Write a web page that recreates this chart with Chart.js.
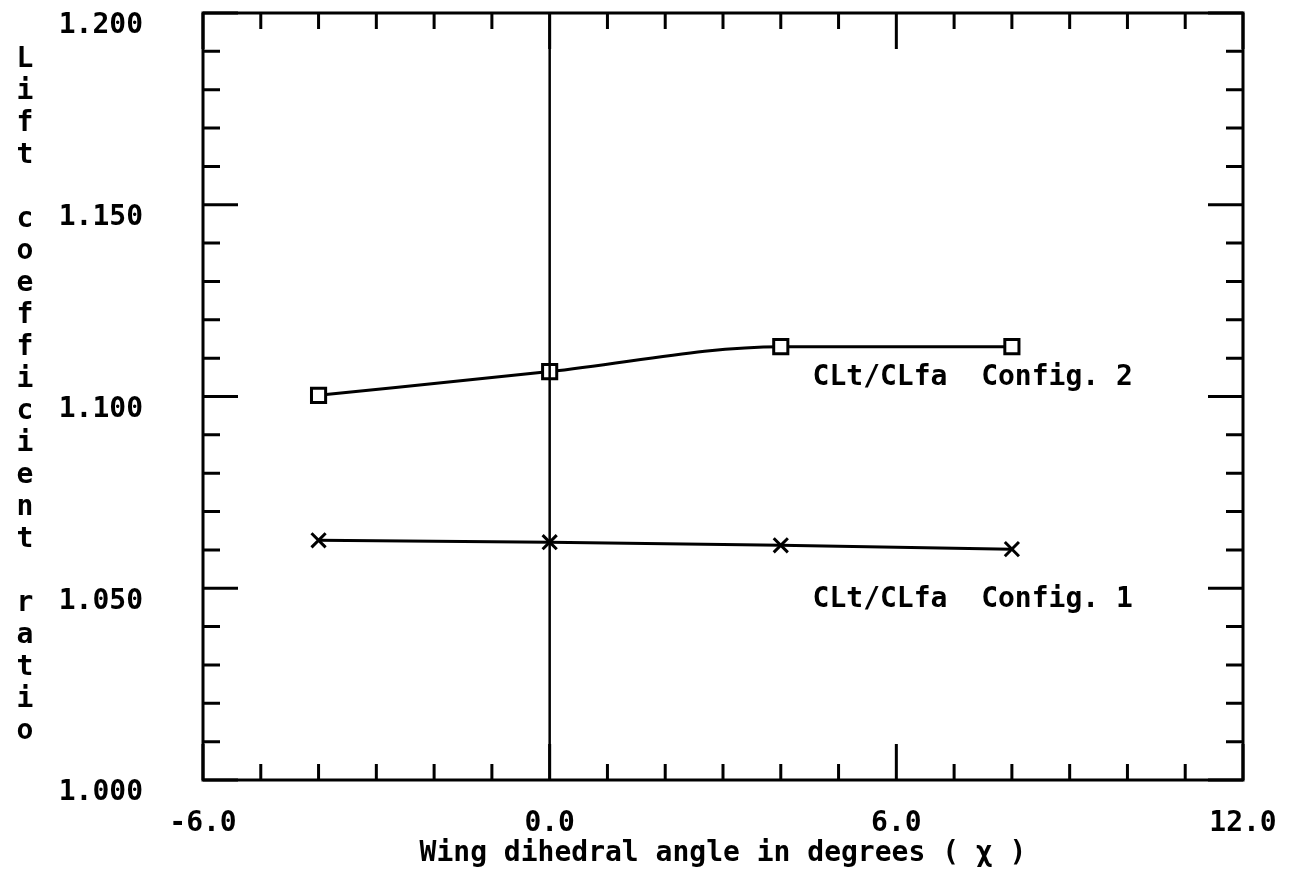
<!DOCTYPE html>
<html>
<head>
<meta charset="utf-8">
<script src="https://cdn.jsdelivr.net/npm/chart.js@4.4.1/dist/chart.umd.min.js"></script>
<style>
  html, body { margin: 0; padding: 0; background: #fff; }
  #wrap { width: 1290px; height: 874px; }
</style>
</head>
<body>
<div id="wrap"><canvas id="liftChart" width="1290" height="874"></canvas></div>
<script>
const dihedral = [-4, 0, 4, 8];
const config1 = [1.0625, 1.0620, 1.0612, 1.0602];
const config2 = [1.1003, 1.1065, 1.1130, 1.1130];
const seriesNames = ['CLt/CLfa  Config. 1', 'CLt/CLfa  Config. 2'];
const yTitle = 'Lift coefficient ratio';
const xTitle = 'Wing dihedral angle in degrees ( \u03C7 )';

const FONT = '"DejaVu Sans Mono", "Liberation Mono", monospace';

// stop chart.js from reserving extra room for overhanging tick labels
function noPadding(scale) {
  scale.paddingTop = 0;
  scale.paddingBottom = 0;
  scale.paddingLeft = 0;
  scale.paddingRight = 0;
}

// inward ticks on all four sides, frame, zero line, stacked y title, series labels
const plotterPlugin = {
  id: 'plotter',
  afterDraw(chart) {
    const ctx = chart.ctx;
    const a = chart.chartArea;
    const xs = chart.scales.x;
    const ys = chart.scales.y;
    ctx.save();
    ctx.strokeStyle = '#000';
    ctx.lineWidth = 3;
    ctx.lineCap = 'butt';
    ctx.strokeRect(a.left, a.top, a.right - a.left, a.bottom - a.top);

    // x ticks every 1 deg, long every 6
    for (let v = -6; v <= 12; v++) {
      const px = xs.getPixelForValue(v);
      const len = v % 6 === 0 ? 36 : 16;
      ctx.beginPath();
      ctx.moveTo(px, a.bottom); ctx.lineTo(px, a.bottom - len);
      ctx.moveTo(px, a.top); ctx.lineTo(px, a.top + len);
      ctx.stroke();
    }
    // y ticks every 0.01, long every 0.05
    for (let i = 0; i <= 20; i++) {
      const py = ys.getPixelForValue(1 + i * 0.01);
      const len = i % 5 === 0 ? 35 : 17;
      ctx.beginPath();
      ctx.moveTo(a.left, py); ctx.lineTo(a.left + len, py);
      ctx.moveTo(a.right, py); ctx.lineTo(a.right - len, py);
      ctx.stroke();
    }
    // zero line
    ctx.lineWidth = 2.5;
    const x0 = xs.getPixelForValue(0);
    ctx.beginPath();
    ctx.moveTo(x0, a.top); ctx.lineTo(x0, a.bottom);
    ctx.stroke();

    // stacked y axis title
    ctx.fillStyle = '#000';
    ctx.font = 'bold 28px ' + FONT;
    ctx.textAlign = 'center';
    ctx.textBaseline = 'alphabetic';
    for (let k = 0; k < yTitle.length; k++) {
      ctx.fillText(yTitle[k], 25, 67 + 32 * k);
    }

    // series labels
    ctx.textAlign = 'left';
    ctx.textBaseline = 'middle';
    ctx.fillText(seriesNames[1], xs.getPixelForValue(4.55), ys.getPixelForValue(1.1050));
    ctx.fillText(seriesNames[0], xs.getPixelForValue(4.55), ys.getPixelForValue(1.0470));
    ctx.restore();
  }
};

const ctx = document.getElementById('liftChart').getContext('2d');
const chart = new Chart(ctx, {
  type: 'line',
  data: {
    datasets: [{
      label: seriesNames[0],
      data: dihedral.map((x, i) => ({ x: x, y: config1[i] })),
      borderColor: '#000',
      borderWidth: 3,
      tension: 0,
      pointStyle: 'crossRot',
      pointRadius: 10,
      pointBorderWidth: 3,
      pointBorderColor: '#000',
      pointBackgroundColor: '#000'
    }, {
      label: seriesNames[1],
      data: dihedral.map((x, i) => ({ x: x, y: config2[i] })),
      borderColor: '#000',
      borderWidth: 3,
      cubicInterpolationMode: 'monotone',
      pointStyle: 'rect',
      pointRadius: 10,
      pointBorderWidth: 3,
      pointBorderColor: '#000',
      pointBackgroundColor: '#fff'
    }]
  },
  options: {
    responsive: false,
    animation: false,
    layout: {
      padding: { left: 0, top: 12, right: 47, bottom: 0 }
    },
    plugins: {
      legend: { display: false },
      tooltip: { enabled: false }
    },
    scales: {
      x: {
        type: 'linear',
        min: -6,
        max: 12,
        grid: { display: false, drawTicks: false },
        border: { display: false },
        ticks: {
          stepSize: 6,
          color: '#000',
          padding: 27,
          font: { family: FONT, size: 28, weight: 'bold' },
          callback: v => v.toFixed(1)
        },
        title: {
          display: true,
          text: xTitle,
          color: '#000',
          padding: { top: 0, bottom: 3 },
          font: { family: FONT, size: 28, weight: 'bold' }
        },
        afterFit(scale) { scale.height = 94; noPadding(scale); }
      },
      y: {
        type: 'linear',
        min: 1.0,
        max: 1.2,
        grid: { display: false, drawTicks: false },
        border: { display: false },
        ticks: {
          stepSize: 0.05,
          color: '#000',
          padding: 60,
          labelOffset: 13,
          font: { family: FONT, size: 28, weight: 'bold' },
          callback: v => v.toFixed(3)
        },
        afterFit(scale) { scale.width = 203; noPadding(scale); }
      }
    }
  },
  plugins: [plotterPlugin]
});
</script>
</body>
</html>
